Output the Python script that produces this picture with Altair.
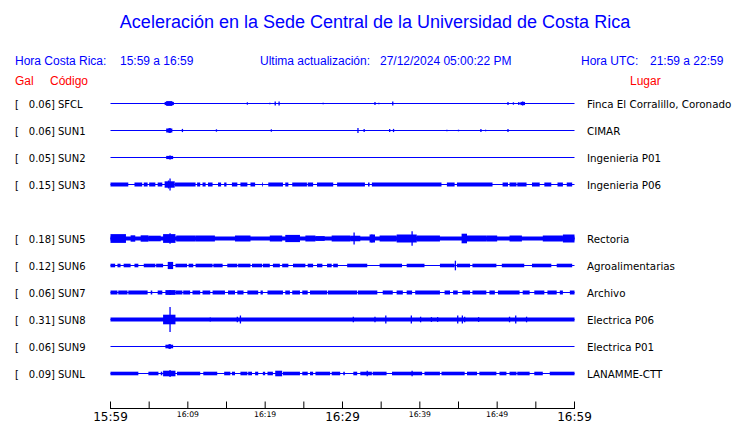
import altair as alt
import pandas as pd

BLUE = "#0000ff"
RED = "#ff0000"
HEAD_FONT = "Liberation Sans"
LABEL_FONT = "DejaVu Sans"

TITLE = "Aceleración en la Sede Central de la Universidad de Costa Rica"
HORA_CR = "15:59 a 16:59"
HORA_UTC = "21:59 a 22:59"
ACTUALIZACION = "27/12/2024 05:00:22 PM"

# stations (slot 4 is an empty row in the original display)
codes = ["SFCL", "SUN1", "SUN2", "SUN3", "SUN5", "SUN6", "SUN7", "SUN8", "SUN9", "SUNL"]
slots = [0, 1, 2, 3, 5, 6, 7, 8, 9, 10]
peak_gal = [0.06, 0.06, 0.05, 0.15, 0.18, 0.12, 0.06, 0.31, 0.06, 0.09]
places = ["Finca El Corralillo, Coronado", "CIMAR", "Ingenieria P01", "Ingenieria P06",
          "Rectoria", "Agroalimentarias", "Archivo", "Electrica P06", "Electrica P01",
          "LANAMME-CTT"]
# continuous background noise level (Gal)
floor_gal = [0, 0, 0, 0, 0.05, 0, 0, 0.05, 0, 0]
ROW_STEP = 0.675  # vertical offset (Gal) between trace slots
WINDOW = [0, 60]  # minutes after 15:59

# noise bursts: (start min, end min, half amplitude Gal)
bands_SFCL = [(7.0, 8.2, 0.04), (7.2, 8.0, 0.06), (53.0, 53.6, 0.04)]
spikes_SFCL = [(17.7, 0.03), (20.6, 0.02), (21.3, 0.05), (21.8, 0.05), (27.5, 0.02),
               (34.2, 0.04), (34.7, 0.02), (36.5, 0.05), (51.4, 0.04), (52.1, 0.03),
               (52.8, 0.04), (53.3, 0.05)]

bands_SUN1 = [(7.2, 8.0, 0.05), (7.5, 7.8, 0.06)]
spikes_SUN1 = [(9.3, 0.04), (13.7, 0.03), (20.8, 0.03), (32.0, 0.06), (32.8, 0.04),
               (36.1, 0.04), (36.6, 0.04), (43.5, 0.02), (45.0, 0.02), (47.9, 0.04),
               (48.5, 0.02), (51.4, 0.04)]

bands_SUN2 = [(7.2, 8.1, 0.04), (7.6, 7.8, 0.05)]
spikes_SUN2 = []

bands_SUN3 = [(0.0, 2.3, 0.05), (3.1, 4.1, 0.05), (4.3, 4.8, 0.05), (5.0, 5.8, 0.05),
              (6.1, 6.7, 0.05), (7.0, 8.3, 0.08), (8.3, 11.0, 0.05), (11.2, 11.6, 0.05),
              (11.9, 12.3, 0.05), (12.6, 13.2, 0.05), (13.9, 14.3, 0.05), (14.7, 15.0, 0.05),
              (15.7, 16.4, 0.05), (16.8, 17.7, 0.05), (18.1, 18.7, 0.05), (19.6, 19.7, 0.05),
              (20.4, 22.3, 0.05), (22.6, 23.0, 0.05), (23.5, 25.4, 0.05), (25.5, 26.2, 0.05),
              (26.7, 28.8, 0.05), (29.3, 32.9, 0.05), (33.3, 33.5, 0.05), (33.8, 42.8, 0.05),
              (43.5, 44.5, 0.05), (44.8, 49.4, 0.05), (50.7, 51.4, 0.05), (51.6, 52.5, 0.05),
              (52.6, 53.8, 0.05), (54.5, 55.5, 0.05), (56.1, 57.0, 0.05), (57.8, 58.5, 0.05),
              (59.0, 59.7, 0.05)]
spikes_SUN3 = [(7.5, 0.1), (7.7, 0.15)]

bands_SUN5 = [(0.0, 2.0, 0.11), (2.6, 3.2, 0.08), (3.9, 4.9, 0.08), (4.9, 6.5, 0.07),
              (6.8, 8.4, 0.11), (8.5, 11.0, 0.075), (11.0, 13.5, 0.075), (16.1, 18.1, 0.075),
              (20.6, 22.2, 0.075), (22.6, 24.5, 0.09), (25.2, 26.5, 0.075), (26.5, 27.7, 0.06),
              (28.6, 31.0, 0.075), (31.0, 32.3, 0.07), (33.5, 34.2, 0.1), (34.8, 37.0, 0.075),
              (37.0, 39.6, 0.1), (39.6, 42.6, 0.075), (45.4, 46.1, 0.12), (46.1, 48.6, 0.075),
              (48.6, 50.0, 0.075), (51.6, 53.2, 0.075), (55.9, 58.5, 0.075), (58.5, 60.0, 0.1)]
spikes_SUN5 = [(7.7, 0.13), (31.5, 0.15), (33.8, 0.1), (39.0, 0.18)]

bands_SUN6 = [(0.0, 0.6, 0.045), (0.9, 1.3, 0.045), (1.7, 2.6, 0.045), (3.1, 3.6, 0.045),
              (4.3, 5.8, 0.045), (5.9, 6.8, 0.045), (7.4, 8.1, 0.09), (8.4, 9.9, 0.045),
              (10.1, 10.7, 0.045), (11.0, 13.2, 0.045), (13.3, 14.5, 0.045), (15.1, 16.4, 0.045),
              (16.5, 18.1, 0.045), (18.3, 19.6, 0.045), (19.7, 20.6, 0.045), (21.0, 21.9, 0.045),
              (22.2, 23.0, 0.045), (23.6, 25.2, 0.045), (25.5, 26.2, 0.045), (26.7, 27.4, 0.045),
              (28.0, 28.6, 0.045), (28.8, 29.4, 0.045), (30.6, 33.2, 0.045), (34.8, 37.7, 0.045),
              (38.3, 40.6, 0.045), (42.6, 44.5, 0.045), (44.8, 46.5, 0.045), (46.8, 49.9, 0.045),
              (50.6, 53.5, 0.045), (54.5, 57.0, 0.045), (57.7, 59.7, 0.045)]
spikes_SUN6 = [(44.6, 0.12)]

bands_SUN7 = [(0.0, 0.9, 0.05), (1.0, 2.2, 0.05), (2.3, 4.8, 0.05), (5.2, 5.4, 0.05),
              (6.1, 6.7, 0.05), (7.1, 8.4, 0.06), (8.4, 9.3, 0.05), (9.4, 10.3, 0.05),
              (10.6, 11.6, 0.05), (11.9, 12.9, 0.05), (13.2, 14.8, 0.05), (15.2, 16.1, 0.05),
              (16.4, 17.2, 0.05), (17.7, 19.1, 0.05), (19.4, 19.7, 0.05), (20.3, 22.3, 0.05),
              (22.6, 23.2, 0.05), (23.5, 24.5, 0.05), (24.8, 25.5, 0.05), (25.8, 28.0, 0.05),
              (28.1, 31.9, 0.05), (32.0, 34.5, 0.05), (35.2, 36.5, 0.05), (37.0, 37.8, 0.05),
              (38.3, 39.0, 0.05), (39.4, 42.6, 0.05), (43.2, 43.9, 0.05), (44.3, 44.9, 0.05),
              (45.5, 46.5, 0.05), (46.8, 48.6, 0.05), (49.0, 49.7, 0.05), (50.1, 52.9, 0.05),
              (53.3, 54.2, 0.05), (54.8, 56.1, 0.05), (56.5, 57.7, 0.05), (58.1, 58.5, 0.05),
              (59.4, 60.0, 0.05)]
spikes_SUN7 = [(7.7, 0.06)]

bands_SUN8 = [(6.8, 8.4, 0.12)]
spikes_SUN8 = [(7.7, 0.31), (12.9, 0.05), (16.4, 0.07), (16.8, 0.1), (31.4, 0.07),
               (34.2, 0.07), (35.6, 0.1), (38.9, 0.1), (40.1, 0.07), (41.5, 0.06),
               (42.3, 0.06), (44.9, 0.1), (45.5, 0.1), (45.8, 0.07), (47.6, 0.06),
               (51.6, 0.07), (52.4, 0.1), (53.8, 0.07)]

bands_SUN9 = [(7.1, 8.1, 0.045), (7.5, 7.8, 0.06)]
spikes_SUN9 = []

bands_SUNL = [(0.0, 3.6, 0.045), (4.9, 6.2, 0.045), (6.5, 6.7, 0.045), (6.8, 8.4, 0.07),
              (8.6, 11.6, 0.045), (12.0, 13.8, 0.045), (14.7, 15.5, 0.045), (15.7, 16.1, 0.045),
              (16.8, 17.7, 0.045), (17.8, 18.3, 0.045), (18.7, 19.1, 0.045), (19.7, 20.0, 0.045),
              (20.3, 21.0, 0.045), (21.3, 22.2, 0.07), (22.3, 24.5, 0.045), (24.8, 25.5, 0.045),
              (25.8, 26.2, 0.045), (26.5, 28.4, 0.045), (28.6, 29.7, 0.045), (30.1, 30.3, 0.045),
              (31.4, 31.9, 0.045), (32.3, 33.8, 0.045), (33.9, 35.7, 0.045), (36.4, 40.3, 0.045),
              (40.6, 42.6, 0.045), (42.8, 45.8, 0.045), (46.1, 47.4, 0.045), (47.7, 49.9, 0.045),
              (50.3, 51.2, 0.045), (51.6, 52.5, 0.045), (52.6, 54.2, 0.045), (54.8, 55.9, 0.045),
              (56.8, 60.0, 0.045)]
spikes_SUNL = [(7.7, 0.09), (33.2, 0.07), (39.0, 0.07)]

BANDS = {"SFCL": bands_SFCL, "SUN1": bands_SUN1, "SUN2": bands_SUN2, "SUN3": bands_SUN3,
         "SUN5": bands_SUN5, "SUN6": bands_SUN6, "SUN7": bands_SUN7, "SUN8": bands_SUN8,
         "SUN9": bands_SUN9, "SUNL": bands_SUNL}
SPIKES = {"SFCL": spikes_SFCL, "SUN1": spikes_SUN1, "SUN2": spikes_SUN2, "SUN3": spikes_SUN3,
          "SUN5": spikes_SUN5, "SUN6": spikes_SUN6, "SUN7": spikes_SUN7, "SUN8": spikes_SUN8,
          "SUN9": spikes_SUN9, "SUNL": spikes_SUNL}

tick_minutes = [0, 5, 10, 15, 20, 25, 30, 35, 40, 45, 50, 55, 60]
major_minutes = [0, 30, 60]
major_labels = ["15:59", "16:29", "16:59"]
minor_minutes = [10, 20, 40, 50]
minor_labels = ["16:09", "16:19", "16:39", "16:49"]

# ---- tables ----
rows = []
band_rows = []
spike_rows = []
for code, slot, pk, place, fl in zip(codes, slots, peak_gal, places, floor_gal):
    base = -slot * ROW_STEP
    rows.append({"code": code, "base": base, "peak": f"{pk:.2f}]", "place": place,
                 "t0": WINDOW[0], "t1": WINDOW[1]})
    if fl > 0:
        band_rows.append({"t0": WINDOW[0], "t1": WINDOW[1], "lo": base - fl, "hi": base + fl})
    for a, b, amp in BANDS[code]:
        band_rows.append({"t0": a, "t1": b, "lo": base - amp, "hi": base + amp})
    for t, amp in SPIKES[code]:
        spike_rows.append({"t": t, "lo": base - amp, "hi": base + amp})

rows_df = pd.DataFrame(rows)
bands_df = pd.DataFrame(band_rows)
spikes_df = pd.DataFrame(spike_rows)
ticks_df = pd.DataFrame({"m": tick_minutes})
major_df = pd.DataFrame({"m": major_minutes, "lab": major_labels})
minor_df = pd.DataFrame({"m": minor_minutes, "lab": minor_labels})
axis_df = pd.DataFrame({"t0": [WINDOW[0]], "t1": [WINDOW[1]]})

xs = alt.Scale(domain=WINDOW, range=[102.5, 566.5], nice=False, zero=False)
ys = alt.Scale(domain=[0, -1], range=[95.5, 135.5], nice=False, zero=False)

X = lambda f: alt.X(f, type="quantitative", scale=xs, axis=None)
Y = lambda f: alt.Y(f, type="quantitative", scale=ys, axis=None)

baseline = alt.Chart(rows_df).mark_rule(color=BLUE, strokeWidth=1).encode(
    x=X("t0"), x2="t1", y=Y("base"))
bands = alt.Chart(bands_df).mark_rect(color=BLUE).encode(
    x=X("t0"), x2="t1", y=Y("hi"), y2="lo")
spikes = alt.Chart(spikes_df).mark_rule(color=BLUE, strokeWidth=1.3).encode(
    x=X("t"), y=Y("hi"), y2="lo")

TXT = dict(baseline="middle", font=LABEL_FONT, color="black", dy=1)
bracket = alt.Chart(rows_df).mark_text(align="left", fontSize=10, **TXT).encode(
    x=alt.value(7), y=Y("base"), text=alt.value("["))
peak = alt.Chart(rows_df).mark_text(align="right", fontSize=10, **TXT).encode(
    x=alt.value(47), y=Y("base"), text="peak:N")
code_t = alt.Chart(rows_df).mark_text(align="left", fontSize=10, **TXT).encode(
    x=alt.value(50), y=Y("base"), text="code:N")
place_t = alt.Chart(rows_df).mark_text(align="left", fontSize=10.3, **TXT).encode(
    x=alt.value(579), y=Y("base"), text="place:N")

axis_line = alt.Chart(axis_df).mark_rule(color="black", strokeWidth=1).encode(
    x=X("t0"), x2="t1", y=alt.value(400.5))
ticks = alt.Chart(ticks_df).mark_rule(color="black", strokeWidth=1).encode(
    x=X("m"), y=alt.value(393.5), y2=alt.value(401))
major = alt.Chart(major_df).mark_text(align="center", baseline="middle", font=LABEL_FONT,
                                      fontSize=12, color="black").encode(
    x=X("m"), y=alt.value(408.5), text="lab:N")
minor = alt.Chart(minor_df).mark_text(align="center", baseline="middle", font=LABEL_FONT,
                                      fontSize=7.7, color="black").encode(
    x=X("m"), y=alt.value(407), text="lab:N")


def label(txt, x, y, color=BLUE, size=12, align="left"):
    return alt.Chart(axis_df).mark_text(align=align, baseline="middle", font=HEAD_FONT,
                                        fontSize=size, color=color).encode(
        x=alt.value(x), y=alt.value(y), text=alt.value(txt))


headers = [
    label(TITLE, 367, 15, size=18, align="center"),
    label("Hora Costa Rica:", 7, 53),
    label(HORA_CR, 112, 53),
    label("Ultima actualización:", 252, 53),
    label(ACTUALIZACION, 372, 53),
    label("Hora UTC:", 573, 53),
    label(HORA_UTC, 642, 53),
    label("Gal", 7, 73, color=RED),
    label("Código", 42, 73, color=RED),
    label("Lugar", 622, 73, color=RED),
]

chart = alt.layer(
    baseline, bands, spikes, bracket, peak, code_t, place_t,
    axis_line, ticks, major, minor, *headers
).properties(
    width=724, height=415, padding=0,
    autosize=alt.AutoSizeParams(type="none"),
).configure_view(strokeWidth=0)

chart.save("out.html", embed_options={"renderer": "svg", "actions": False})
